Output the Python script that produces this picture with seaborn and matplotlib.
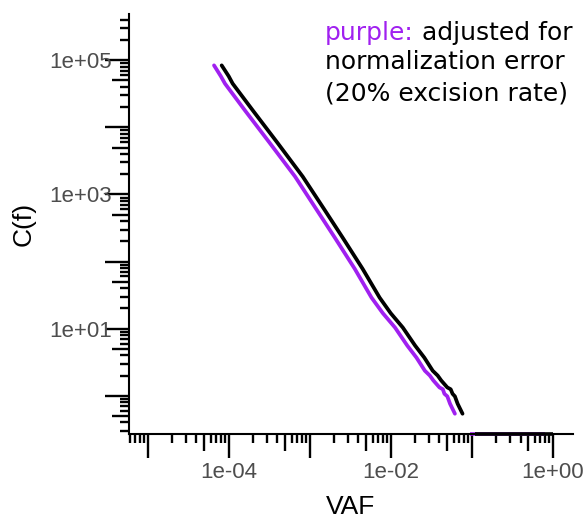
import numpy as np
import pandas as pd
import seaborn as sns
import matplotlib.pyplot as plt
from matplotlib.ticker import FixedLocator, FixedFormatter, NullLocator

# values
vaf_black = [8.2e-5, 1.0e-4, 1.12e-4, 2.0e-4, 4.0e-4, 8.2e-4, 1.5e-3, 2.55e-3, 4.5e-3, 7.3e-3,
             1.0e-2, 1.41e-2, 2.0e-2, 2.6e-2, 3.3e-2, 3.8e-2, 4.2e-2, 5.0e-2, 5.5e-2,
             5.8e-2, 6.2e-2, 6.7e-2, 7.7e-2]
vaf_purple = [6.6e-5, 8.0e-5, 9.0e-5, 1.6e-4, 3.2e-4, 6.6e-4, 1.2e-3, 2.04e-3, 3.6e-3, 5.8e-3,
              8.0e-3, 1.13e-2, 1.6e-2, 2.08e-2, 2.64e-2, 3.04e-2, 3.36e-2, 4.0e-2, 4.4e-2,
              4.6e-2, 5.0e-2, 5.4e-2, 6.2e-2]
c_f = [84000, 58000, 45000, 17700, 5900, 1850, 610, 228, 78, 29,
       17.0, 10.4, 5.6, 3.7, 2.36, 2.0, 1.69, 1.33, 1.25,
       1.07, 0.98, 0.76, 0.54]

# C(f) = 0 beyond the largest VAF, squished onto the axis
tail_vaf_black = [0.11, 1.0]
tail_vaf_purple = [0.094, 0.8]
tail_c = [0, 0]

x_decades = [1e-6, 1e-5, 1e-4, 1e-3, 1e-2, 1e-1, 1e0]
x_labels = ["", "", "1e-04", "", "1e-02", "", "1e+00"]
y_decades = [1e-1, 1e0, 1e1, 1e2, 1e3, 1e4, 1e5, 1e6]
y_labels = ["", "", "1e+01", "", "1e+03", "", "1e+05", ""]

PURPLE = "#A020F0"
xlim = (10 ** -5.23, 10 ** 0.25)
ylim = (10 ** -0.57, 10 ** 5.69)

sns.set_theme(style="white")
plt.rcParams["font.family"] = ["Liberation Sans", "DejaVu Sans"]

fig = plt.figure(figsize=(5.87, 5.2), dpi=100)
ax = fig.add_axes([129 / 587, 86 / 520, 444 / 587, 420 / 520])

df_p = pd.DataFrame({"VAF": vaf_purple, "C": c_f})
df_b = pd.DataFrame({"VAF": vaf_black, "C": c_f})
sns.lineplot(data=df_p, x="VAF", y="C", color=PURPLE, lw=2.7, sort=False,
             estimator=None, ax=ax)
sns.lineplot(data=df_b, x="VAF", y="C", color="black", lw=2.7, sort=False,
             estimator=None, ax=ax)
ax.set_xscale("log")
ax.set_yscale("log")
ax.set_xlim(*xlim)
ax.set_ylim(*ylim)

# squish zero counts onto the lower limit
ax.plot(tail_vaf_purple, np.clip(tail_c, ylim[0], None), color=PURPLE, lw=2.6,
        clip_on=False, solid_capstyle="butt")
ax.plot(tail_vaf_black, np.clip(tail_c, ylim[0], None), color="black", lw=2.6,
        clip_on=False, solid_capstyle="butt")

for s in ["top", "right"]:
    ax.spines[s].set_visible(False)
for s in ["left", "bottom"]:
    ax.spines[s].set_color("black")
    ax.spines[s].set_linewidth(1.5)

subs = [2, 3, 4, 6, 7, 8, 9]
ax.xaxis.set_major_locator(FixedLocator(x_decades))
ax.xaxis.set_major_formatter(FixedFormatter(x_labels))
ax.xaxis.set_minor_locator(FixedLocator([d * s for d in x_decades for s in subs]))
ax.yaxis.set_major_locator(FixedLocator(y_decades))
ax.yaxis.set_major_formatter(FixedFormatter(y_labels))
ax.yaxis.set_minor_locator(FixedLocator([d * s for d in y_decades for s in subs]))

ax.tick_params(axis="x", which="major", bottom=True, length=17.3, width=1.7,
               color="black", labelsize=16, labelcolor="#4D4D4D", pad=3)
ax.tick_params(axis="y", which="major", left=True, length=17.3, width=1.7,
               color="black", labelsize=16, labelcolor="#4D4D4D", pad=-5)
ax.tick_params(which="minor", bottom=True, left=True, length=6.5, width=1.7,
               color="black")

# mid-length ticks at 5 x 10^k
secx = ax.secondary_xaxis("bottom")
secx.set_xticks([d * 5 for d in x_decades])
secx.xaxis.set_minor_locator(NullLocator())
secx.tick_params(length=12.5, width=1.7, color="black", labelbottom=False)
secx.spines["bottom"].set_visible(False)
secy = ax.secondary_yaxis("left")
secy.set_yticks([d * 5 for d in y_decades])
secy.yaxis.set_minor_locator(NullLocator())
secy.tick_params(length=12.5, width=1.7, color="black", labelleft=False)
secy.spines["left"].set_visible(False)

ax.set_xlabel("VAF", fontsize=19, color="black")
ax.set_ylabel("C(f)", fontsize=19, color="black")
ax.xaxis.set_label_coords(0.5, -0.145)
ax.yaxis.set_label_coords(-0.21, 0.5)

t1 = fig.text(325 / 587, 1 - 40 / 520, "purple:", color=PURPLE, fontsize=18,
              va="baseline", ha="left", family=["DejaVu Sans"])
ax.annotate(" adjusted for", xy=(1, 0), xycoords=t1, va="bottom", ha="left",
            fontsize=18, color="black", family=["DejaVu Sans"])
fig.text(325 / 587, 1 - 69 / 520, "normalization error", color="black",
         fontsize=18, va="baseline", ha="left", family=["DejaVu Sans"])
fig.text(325 / 587, 1 - 100 / 520, "(20% excision rate)", color="black",
         fontsize=18, va="baseline", ha="left", family=["DejaVu Sans"])

fig.savefig("out.png", dpi=100)
